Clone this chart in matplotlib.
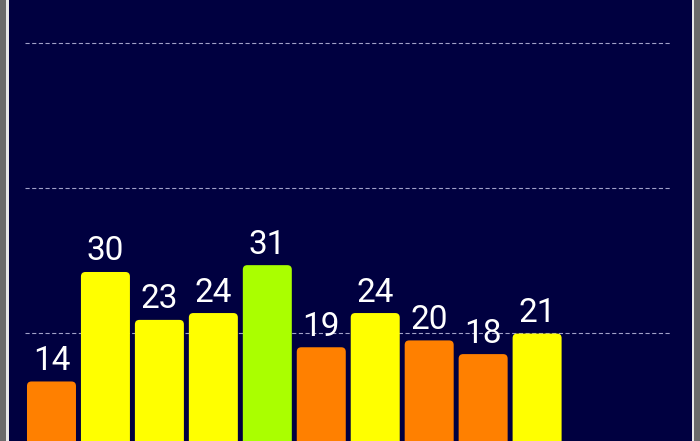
import matplotlib
matplotlib.use("Agg")
import matplotlib.pyplot as plt
from matplotlib.patches import FancyBboxPatch, Rectangle

plt.rcParams["font.family"] = ["Roboto", "DejaVu Sans"]
plt.rcParams["lines.scale_dashes"] = False

# data
slots = list(range(12))
values = [14, 30, 23, 24, 31, 19, 24, 20, 18, 21]
colors = ["#FF8000", "#FFFF00", "#FFFF00", "#FFFF00", "#AAFF00",
          "#FF8000", "#FFFF00", "#FF8000", "#FF8000", "#FFFF00"]
grid_ticks = [21.1, 42.3, 63.5]

NAVY = "#000040"
W, H = 700, 441

fig = plt.figure(figsize=(W / 100, H / 100), dpi=100, facecolor="#6b6b6b")
fig.patches.append(Rectangle((6 / W, 0), (694 - 6) / W, 1, transform=fig.transFigure,
                             facecolor="#e8e8e8", edgecolor="none", zorder=-10))
fig.patches.append(Rectangle((8.5 / W, 0), (691.5 - 8.5) / W, 1, transform=fig.transFigure,
                             facecolor=NAVY, edgecolor="none", zorder=-9))

ax = fig.add_axes([24.5 / W, 0, (672 - 24.5) / W, 1])
ax.set_zorder(1)
ax.patch.set_alpha(0)
ax.set_xlim(-0.5, len(slots) - 0.5)
ax.set_ylim(5.3, 69.75)

ax.set_yticks(grid_ticks)
ax.yaxis.grid(True, color="#a0a0c8", linewidth=0.8, dashes=(3.0, 1.8))
ax.set_axisbelow(True)
ax.tick_params(length=0, labelleft=False, labelbottom=False)
for s in ax.spines.values():
    s.set_visible(False)

width = 0.908
xunit = (672 - 24.5) / len(slots)
yunit = 6.844
r = 4.5 / xunit
aspect = (4.5 / yunit) / r
for i, (v, c) in enumerate(zip(values, colors)):
    p = FancyBboxPatch((i - width / 2, 0), width, v,
                       boxstyle=f"round,pad=0,rounding_size={r}",
                       mutation_aspect=aspect, facecolor=c, edgecolor="none", zorder=2)
    ax.add_patch(p)
    ax.annotate(str(v), (i, v), xytext=(0, 8.3), textcoords="offset points",
                ha="center", va="baseline", color="white", fontsize=24, zorder=3)

fig.savefig("out.png", dpi=100, facecolor=fig.get_facecolor())
